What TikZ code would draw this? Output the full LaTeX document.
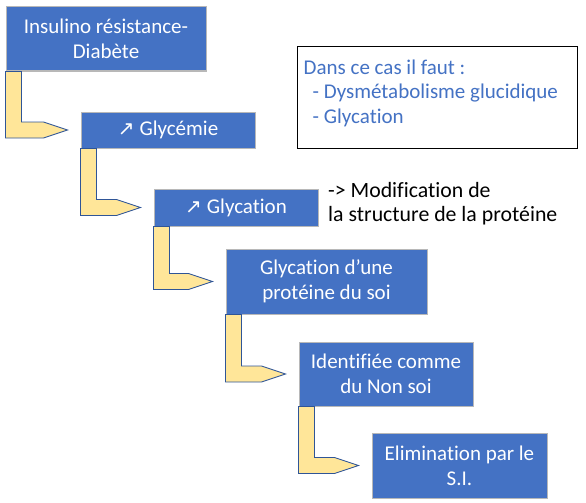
\documentclass[tikz,border=0pt]{standalone}
\usepackage{fontspec}
\setmainfont{Carlito}[RawFeature=-liga]
\newfontfamily\symbfont{DejaVu Sans}
\usetikzlibrary{positioning, calc}
\definecolor{bleu}{HTML}{4472C4}
\definecolor{bord}{HTML}{B8B8B8}
\definecolor{jaune}{HTML}{FFE699}
\definecolor{bleufonce}{HTML}{2F5597}
\tikzset{%
    etape/.style  = {rectangle, draw=bord, line width=1pt, fill=bleu, text=white,
                     align=center, inner sep=2pt, font=\fontsize{21}{25}\selectfont},
    fleche/.style = {draw=bleufonce, line width=0.9pt, fill=jaune, line join=miter},
    cadre/.style  = {rectangle, draw=black, line width=1pt, fill=white,
                     minimum width=280pt, minimum height=101pt},
    texte/.style  = {align=left, inner sep=0pt, font=\fontsize{21}{24.5}\selectfont},
}
\newcommand{\hausse}{{\symbfont\fontsize{20}{20}\selectfont ↗}\hspace{5pt}}

\begin{document}
\begin{tikzpicture}[x=1pt, y=-1pt]
    \useasboundingbox (0,0) rectangle (586,503);

    % etapes
    \node (insul)  [etape, minimum width=200pt, minimum height=64pt] at (106,39)    {Insulino résistance-\\Diabète};
    \node (glyc)   [etape, minimum width=174pt, minimum height=36pt] at (168,130)   {\hausse Glycémie};
    \node (glycat) [etape, minimum width=164pt, minimum height=37pt] at (236,207.5) {\hausse Glycation};
    \node (prot)   [etape, minimum width=201pt, minimum height=65pt] at (326.5,281.5) {Glycation d’une\\protéine du soi};
    \node (nonsoi) [etape, minimum width=174pt, minimum height=64pt] at (386,374)   {Identifiée comme\\du Non soi};
    \node (elim)   [etape, minimum width=175pt, minimum height=65pt] at (459.5,465.5) {Elimination par le\\S.I.};

    % encadre
    \node (cas) [cadre] at (437,97.5) {};
    \node (liste) [texte, text=bleu, anchor=north west] at ([shift={(7,13)}]cas.north west)
        {Dans ce cas il faut :\\\hspace{9pt}- Dysmétabolisme glucidique\\\hspace{9pt}- Glycation};

    % remarque
    \node (modif) [texte, anchor=north west, font=\fontsize{21.8}{24}\selectfont] at (328,182)
        {-> Modification de\\la structure de la protéine};

    % fleches coudees
    \foreach \de/\vers in {insul/glyc, glyc/glycat, glycat/prot, prot/nonsoi, nonsoi/elim}
        \draw[fleche] (\de.south west) -- ++(16,0) |- ($(\vers.west)+(-37,-8)$)
            -- ($(\vers.west)+(-13,0)$) -- ($(\vers.west)+(-37,8)$) -| (\de.south west) -- cycle;
\end{tikzpicture}
\end{document}
